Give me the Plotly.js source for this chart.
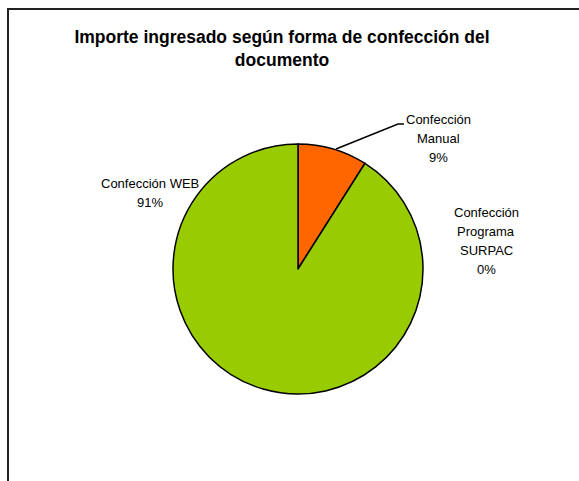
<!DOCTYPE html>
<html>
<head>
<meta charset="utf-8">
<script src="https://cdn.plot.ly/plotly-3.0.1.min.js"></script>
<style>html,body{margin:0;padding:0;background:#fff;}#chart{width:579px;height:481px;}</style>
</head>
<body>
<div id="chart"></div>
<script>
const categories = ["Confección Manual", "Confección Programa SURPAC", "Confección WEB"];
const values = [9, 0, 91];
const colors = ["#FF6600", "#FFFF99", "#99CC00"];
const labelLines = [["Confección", "Manual"], ["Confección", "Programa", "SURPAC"], ["Confección WEB"]];
const titleText = "Importe ingresado según forma de confección del<br>documento";

const W = 579, H = 481;
const px = x => x / W;
const py = y => 1 - y / H;
const total = values.reduce((a, b) => a + b, 0);
const pct = values.map(v => Math.round(v / total * 100) + "%");

const labelTop = [[438, 119], [486, 212], [150, 183]];
const lineGap = 19.3;
const font = "Liberation Sans, Arial, sans-serif";

const annotations = [];
categories.forEach((c, i) => {
  const lines = labelLines[i].concat([pct[i]]);
  lines.forEach((t, k) => {
    annotations.push({
      xref: "paper", yref: "paper",
      x: px(labelTop[i][0]), y: py(labelTop[i][1] + k * lineGap),
      xanchor: "center", yanchor: "middle",
      text: t, showarrow: false,
      font: {family: font, size: 13, color: "#000"}
    });
  });
});

const data = [{
  type: "pie",
  labels: categories,
  values: values,
  sort: false,
  direction: "clockwise",
  rotation: 0,
  textinfo: "none",
  hoverinfo: "label+percent",
  marker: {colors: colors, line: {color: "#000", width: 1.5}},
  domain: {x: [px(173), px(423)], y: [py(394), py(144)]},
  showlegend: false
}];

const layout = {
  width: W, height: H,
  margin: {l: 0, r: 0, t: 0, b: 0},
  paper_bgcolor: "#fff",
  title: {
    text: "<b>" + titleText + "</b>",
    font: {family: font, size: 17.5, color: "#000"},
    x: px(282), xanchor: "center",
    y: py(43), yanchor: "middle"
  },
  annotations: annotations,
  shapes: [
    {type: "rect", xref: "paper", yref: "paper", x0: px(8), x1: px(600), y0: py(9), y1: py(520),
     line: {color: "#222", width: 2}, fillcolor: "rgba(0,0,0,0)", layer: "below"},
    {type: "path", xref: "paper", yref: "paper",
     path: "M" + px(336) + "," + py(149) + " L" + px(398) + "," + py(124) + " L" + px(404) + "," + py(124),
     line: {color: "#000", width: 1.5}}
  ]
};

Plotly.newPlot("chart", data, layout, {displayModeBar: false, staticPlot: true});
</script>
</body>
</html>
